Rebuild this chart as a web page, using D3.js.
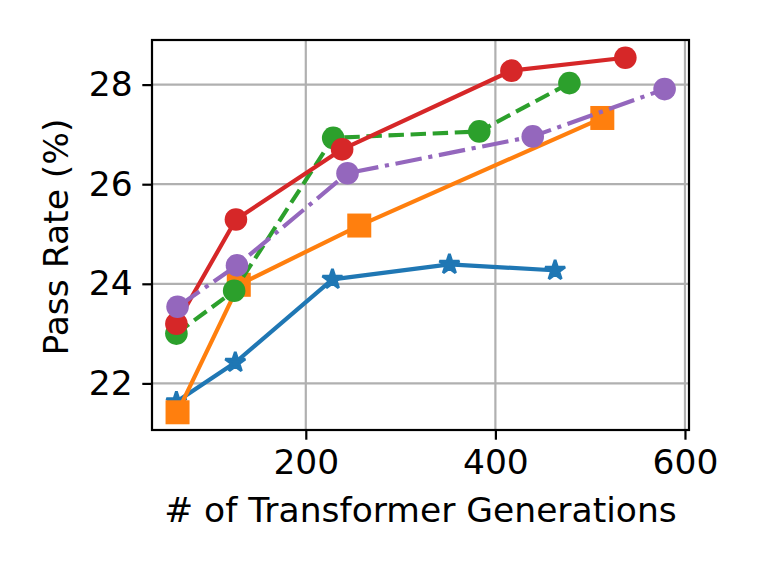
<!DOCTYPE html>
<html>
<head>
<meta charset="utf-8">
<script src="https://cdn.jsdelivr.net/npm/d3@7"></script>
<style>
  html, body { margin: 0; padding: 0; background: #fff; }
  svg { display: block; font-family: "DejaVu Sans", sans-serif; }
</style>
</head>
<body>
<svg id="chart" width="761" height="571"></svg>
<script>
// ---- data ----
const xTicks = [200, 400, 600];
const yTicks = [22, 24, 26, 28];

const blueX = [63.5, 125.6, 228.1, 351.5, 463.0];
const blueY = [21.63, 22.42, 24.09, 24.39, 24.27];

const orangeX = [64.7, 129.3, 256.4, 512.8];
const orangeY = [21.42, 23.98, 25.17, 27.33];

const greenX = [63.5, 124.4, 228.9, 383.0, 478.1];
const greenY = [23.00, 23.86, 26.93, 27.06, 28.03];

const redX = [63.5, 126.3, 238.3, 416.9, 537.1];
const redY = [23.20, 25.29, 26.70, 28.28, 28.54];

const purpleX = [64.7, 127.4, 244.0, 439.4, 578.5];
const purpleY = [23.54, 24.37, 26.22, 26.96, 27.91];

const xLabel = "# of Transformer Generations";
const yLabel = "Pass Rate (%)";

// ---- series table ----
const LW = 4.17;
const series = [
  { xs: blueX, ys: blueY, color: "#1f77b4", marker: "star", dash: null },
  { xs: orangeX, ys: orangeY, color: "#ff7f0e", marker: "square", dash: null },
  { xs: greenX, ys: greenY, color: "#2ca02c", marker: "circle", dash: [3.7, 1.6].map(v => v * LW).join(",") },
  { xs: redX, ys: redY, color: "#d62728", marker: "circle", dash: null },
  { xs: purpleX, ys: purpleY, color: "#9467bd", marker: "circle", dash: [6.4, 1.6, 1, 1.6].map(v => v * LW).join(",") }
];

const svg = d3.select("#chart");
const L = 152, R = 689, T = 40, B = 430;
const FS = "34.5px";

const allX = series.flatMap(s => s.xs);
const allY = series.flatMap(s => s.ys);
const [x0, x1] = d3.extent(allX);
const [y0, y1] = d3.extent(allY);
const px = (x1 - x0) * 0.05, py = (y1 - y0) * 0.05;

const x = d3.scaleLinear().domain([x0 - px, x1 + px]).range([L, R]);
const y = d3.scaleLinear().domain([y0 - py, y1 + py]).range([B, T]);

// grid
const grid = svg.append("g");
xTicks.forEach(t => grid.append("line")
  .attr("x1", x(t)).attr("x2", x(t)).attr("y1", T).attr("y2", B)
  .attr("stroke", "#b0b0b0").attr("stroke-width", 2.2));
yTicks.forEach(t => grid.append("line")
  .attr("x1", L).attr("x2", R).attr("y1", y(t)).attr("y2", y(t))
  .attr("stroke", "#b0b0b0").attr("stroke-width", 2.2));

// axes
const xAxis = d3.axisBottom(x).tickValues(xTicks).tickSize(9.7).tickPadding(9.7).tickFormat(d3.format("d"));
const yAxis = d3.axisLeft(y).tickValues(yTicks).tickSize(9.7).tickPadding(9.7).tickFormat(d3.format("d"));

const gx = svg.append("g").attr("transform", `translate(0,${B})`).call(xAxis);
const gy = svg.append("g").attr("transform", `translate(${L},0)`).call(yAxis);
[gx, gy].forEach(g => {
  g.select(".domain").remove();
  g.selectAll(".tick line").attr("stroke", "#000").attr("stroke-width", 2.2);
  g.selectAll(".tick text").attr("fill", "#000").style("font-size", FS)
    .style("font-family", "'DejaVu Sans', sans-serif");
});

// lines and markers
const lineGen = d3.line().x(d => x(d[0])).y(d => y(d[1]));
const star = (r) => {
  const pts = [];
  for (let i = 0; i < 10; i++) {
    const rad = i % 2 === 0 ? r : r * 0.381966;
    const a = -Math.PI / 2 + i * Math.PI / 5;
    pts.push([rad * Math.cos(a), rad * Math.sin(a)]);
  }
  return "M" + pts.map(p => p.join(",")).join("L") + "Z";
};

const plot = svg.append("g");
series.forEach(s => {
  const pts = s.xs.map((v, i) => [v, s.ys[i]]);
  plot.append("path").attr("d", lineGen(pts))
    .attr("fill", "none").attr("stroke", s.color).attr("stroke-width", LW)
    .attr("stroke-dasharray", s.dash)
    .attr("stroke-linejoin", "round").attr("stroke-linecap", s.dash ? "butt" : "square");
  pts.forEach(p => {
    const cx = x(p[0]), cy = y(p[1]);
    if (s.marker === "circle") {
      plot.append("circle").attr("cx", cx).attr("cy", cy).attr("r", 11.3).attr("fill", s.color);
    } else if (s.marker === "square") {
      plot.append("rect").attr("x", cx - 12).attr("y", cy - 12).attr("width", 24).attr("height", 24).attr("fill", s.color);
    } else {
      plot.append("path").attr("d", star(10.5)).attr("transform", `translate(${cx},${cy})`)
        .attr("fill", s.color).attr("stroke", s.color).attr("stroke-width", 2.8).attr("stroke-linejoin", "bevel");
    }
  });
});

// frame
svg.append("rect").attr("x", L).attr("y", T).attr("width", R - L).attr("height", B - T)
  .attr("fill", "none").attr("stroke", "#000").attr("stroke-width", 2.2);

// labels
svg.append("text").attr("x", (L + R) / 2).attr("y", 522).attr("text-anchor", "middle")
  .style("font-size", FS).attr("fill", "#000").text(xLabel);
svg.append("text").attr("transform", `translate(68,${(T + B) / 2 + 2}) rotate(-90)`)
  .attr("text-anchor", "middle").style("font-size", FS).attr("fill", "#000").text(yLabel);
</script>
</body>
</html>
